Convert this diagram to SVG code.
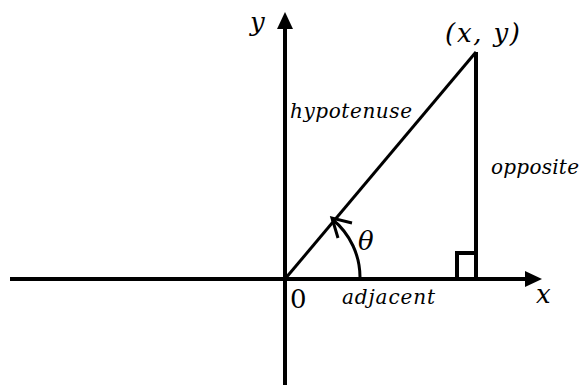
<svg xmlns="http://www.w3.org/2000/svg" width="583" height="385" viewBox="0 0 583 385">
<style>
.ln{stroke:#000;stroke-width:4;fill:none}
.thin{stroke:#000;stroke-width:3;fill:none}
.var{font-family:"DejaVu Serif","Liberation Serif",serif;font-style:italic;font-size:26px;fill:#000}
.lbl{font-family:"DejaVu Serif","Liberation Serif",serif;font-style:italic;font-size:20px;fill:#000}
.num{font-family:"DejaVu Serif","Liberation Serif",serif;font-size:26px;fill:#000}
</style>
<rect width="583" height="385" fill="#fff"/>
<g id="connectors">
<g id="x-axis">
<line class="ln" x1="10" y1="279" x2="527" y2="279"/>
<polygon points="542,279 525,271 525,287" fill="#000"/>
</g>
<g id="y-axis">
<line class="ln" x1="285" y1="385" x2="285" y2="27"/>
<polygon points="285,12 277,29 293,29" fill="#000"/>
</g>
<g id="triangle">
<line class="thin" x1="285" y1="279" x2="476" y2="52"/>
<line class="ln" x1="476" y1="52" x2="476" y2="279"/>
<path class="ln" d="M457,279 V253 H476"/>
</g>
<g id="angle">
<path class="thin" d="M360,279 A75,75 0 0 0 332,219"/>
<polyline class="thin" points="352,223 332,218 338,238"/>
</g>
</g>
<g id="labels">
<text class="var" x="250" y="31">y</text>
<text class="var" x="445" y="42" textLength="75" lengthAdjust="spacing">(x, y)</text>
<text class="lbl" x="290" y="118" textLength="122" lengthAdjust="spacing">hypotenuse</text>
<text class="lbl" x="491" y="174" textLength="88" lengthAdjust="spacing">opposite</text>
<text class="var" x="358" y="250">θ</text>
<text class="num" x="290" y="308">0</text>
<text class="lbl" x="342" y="304" textLength="93" lengthAdjust="spacing">adjacent</text>
<text class="var" x="536" y="303">x</text>
</g>
</svg>
